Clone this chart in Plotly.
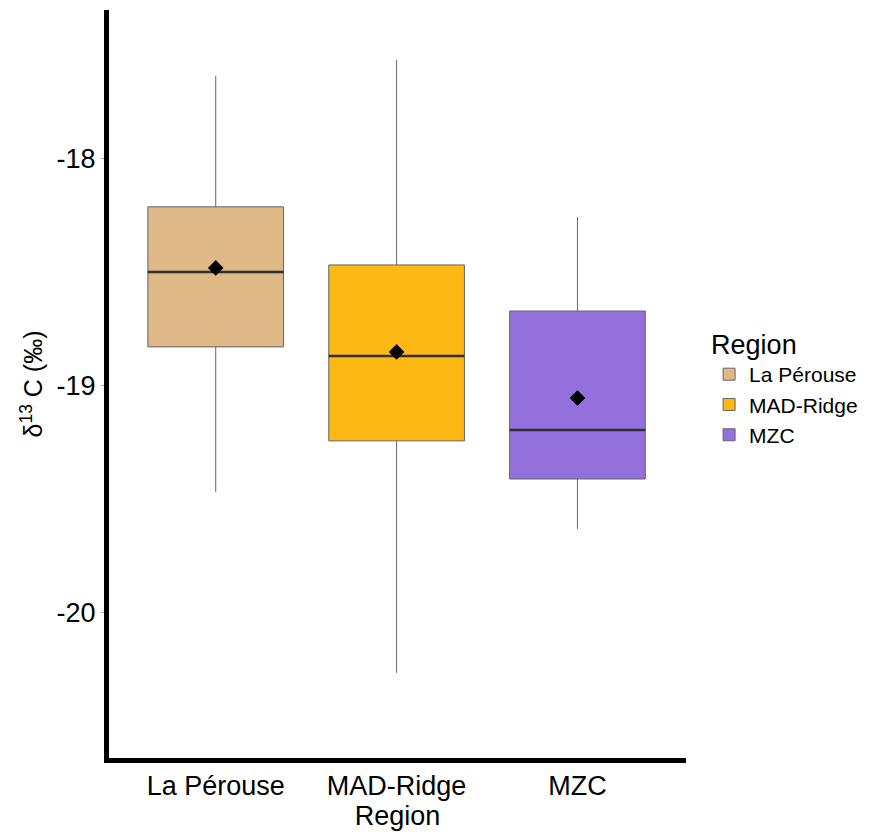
import plotly.graph_objects as go

# Summary statistics of δ13C (‰) per region
regions = ["La Pérouse", "MAD-Ridge", "MZC"]
lower_whisker = [-19.467, -20.264, -19.630]
q1 = [-18.828, -19.242, -19.410]
median = [-18.498, -18.868, -19.194]
q3 = [-18.211, -18.467, -18.670]
upper_whisker = [-17.634, -17.564, -18.256]
mean = [-18.480, -18.850, -19.053]

fills = ["#DEB887", "#FDB813", "#9370DB"]
box_width = 0.75
font_family = "Liberation Sans, Arial, sans-serif"

fig = go.Figure()

positions = list(range(len(regions)))

for i, name in enumerate(regions):
    fig.add_trace(go.Box(
        x=[positions[i]],
        q1=[q1[i]], median=[median[i]], q3=[q3[i]],
        lowerfence=[lower_whisker[i]], upperfence=[upper_whisker[i]],
        name=name,
        width=box_width,
        fillcolor=fills[i],
        line=dict(color="#666666", width=1),
        whiskerwidth=0,
        boxpoints=False,
        hoverinfo="skip",
    ))

# Thicker, darker median bars drawn over each box
for i in positions:
    fig.add_trace(go.Scatter(
        x=[i - box_width / 2, i + box_width / 2],
        y=[median[i], median[i]],
        mode="lines",
        line=dict(color="#2e2e2e", width=2.5),
        showlegend=False,
        hoverinfo="skip",
    ))

# Group means
fig.add_trace(go.Scatter(
    x=positions, y=mean,
    mode="markers",
    marker=dict(symbol="diamond", size=12, color="black"),
    showlegend=False,
    hoverinfo="skip",
))

fig.update_layout(
    width=877, height=832,
    margin=dict(l=109, r=191, t=10, b=74),
    plot_bgcolor="white", paper_bgcolor="white",
    font=dict(family=font_family, color="black"),
    showlegend=True,
    legend=dict(
        title=dict(text="Region", font=dict(size=27)),
        font=dict(size=21),
        x=1.04, xanchor="left",
        y=0.587, yanchor="top",
        tracegroupgap=0,
    ),
    xaxis=dict(
        range=[-0.59, 2.6],
        tickmode="array", tickvals=positions, ticktext=regions,
        tickfont=dict(size=27),
        showline=True, linecolor="black", linewidth=5,
        ticks="",
        showgrid=False, zeroline=False,
        title=dict(text="Region", font=dict(size=27), standoff=0),
    ),
    yaxis=dict(
        range=[-20.639, -17.344],
        tickmode="array", tickvals=[-20, -19, -18], ticktext=["-20", "-19", "-18"],
        tickfont=dict(size=27),
        showline=True, linecolor="black", linewidth=5,
        ticks="outside", ticklen=3, tickcolor="#aaaaaa",
        showgrid=False, zeroline=False,
        title=dict(text="δ<sup>13</sup> C (‰)", font=dict(size=25), standoff=8),
    ),
)

fig.write_html("out.html")
